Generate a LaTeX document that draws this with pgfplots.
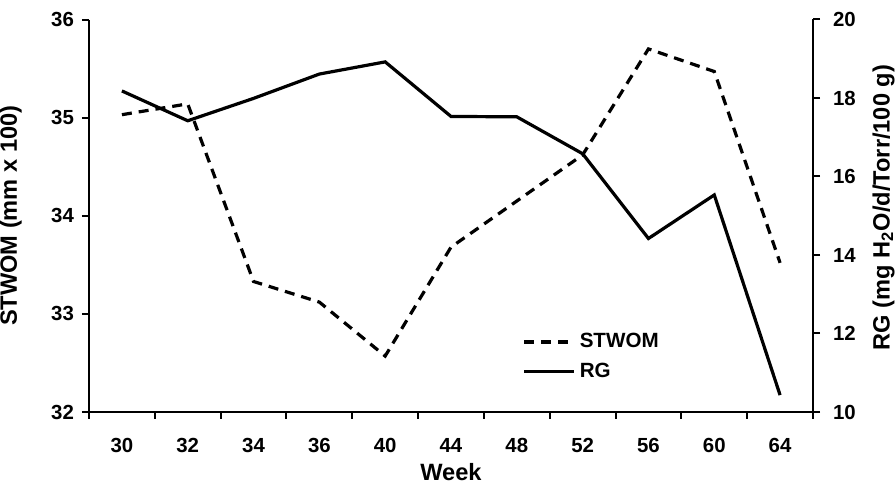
\documentclass[border=0pt]{standalone}
\usepackage{pgfplots}
\usepackage{pgfplotstable}
\pgfplotsset{compat=1.18}
\usepackage{fontspec}
\setmainfont{Liberation Sans}

\pgfplotstableread{
x wk stwom rg
0 30 35.03 18.18
1 32 35.14 17.42
2 34 33.33 17.99
3 36 33.12 18.61
4 40 32.57 18.92
5 44 33.68 17.53
6 48 34.15 17.52
7 52 34.62 16.58
8 56 35.70 14.42
9 60 35.47 15.53
10 64 33.52 10.43
}\data

\pgfplotsset{
  base/.style={
    scale only axis, width=362pt, height=196.25pt,
    xmin=-0.5, xmax=10.5,
    /pgf/number format/assume math mode=true,
    tick label style={font=\fontsize{10.2pt}{12pt}\selectfont\bfseries, black},
    label style={font=\fontsize{11.8pt}{14pt}\selectfont\bfseries},
    axis line style={line width=1pt, black},
    tick style={line width=1pt, black},
    tick align=outside,
    major tick length=3.5pt,
    minor tick length=3.3pt,
    clip=false,
  },
  dashline/.style={black, line width=1.6pt, dash pattern=on 5pt off 3.5pt},
  solidline/.style={black, line width=1.6pt},
}

\begin{document}
\begin{tikzpicture}
\begin{axis}[base,
  axis x line*=bottom, axis y line*=left,
  ymin=32, ymax=36, ytick={32,33,34,35,36},
  xtick={0,...,10},
  xticklabels={30,32,34,36,40,44,48,52,56,60,64},
  major x tick style={draw=none},
  minor xtick={-0.5,0.5,...,10.5},
  xticklabel style={yshift=-6pt},
  yticklabel style={xshift=-0.5pt},
  xlabel={Week},
  xlabel style={at={(axis description cs:0.5,0)}, anchor=north, yshift=-22pt},
  ylabel={STWOM (mm x 100)},
  ylabel style={at={(axis description cs:-0.083,0.5)}, anchor=south},
]
\addplot[dashline] table[x=x, y=stwom]{\data};
\coordinate (bl) at (rel axis cs:0,0);
\coordinate (tr) at (rel axis cs:1,1);
\end{axis}
\begin{axis}[base,
  axis x line=none, axis y line*=right,
  ymin=10, ymax=20, ytick={10,12,...,20},
  yticklabel style={xshift=3pt},
  ylabel={RG (mg H\textsubscript{2}O/d/Torr/100 g)},
  ylabel style={at={(axis description cs:1.0724,0.521)}, anchor=north},
  legend style={at={(0.59,0.222)}, anchor=north west, draw=none, fill=none,
    font=\fontsize{10.3pt}{12pt}\selectfont\bfseries, row sep=2pt},
  legend cell align=left,
  legend image code/.code={\draw[#1] (0pt,0pt) -- (25pt,0pt);},
]
\addlegendimage{dashline}
\addlegendentry{STWOM}
\addplot[solidline] table[x=x, y=rg]{\data};
\addlegendentry{RG}
\end{axis}
\pgfresetboundingbox
\path[use as bounding box] ([shift={(-44.5pt,-37.5pt)}]bl) rectangle ([shift={(41.5pt,9.75pt)}]tr);
\end{tikzpicture}
\end{document}
